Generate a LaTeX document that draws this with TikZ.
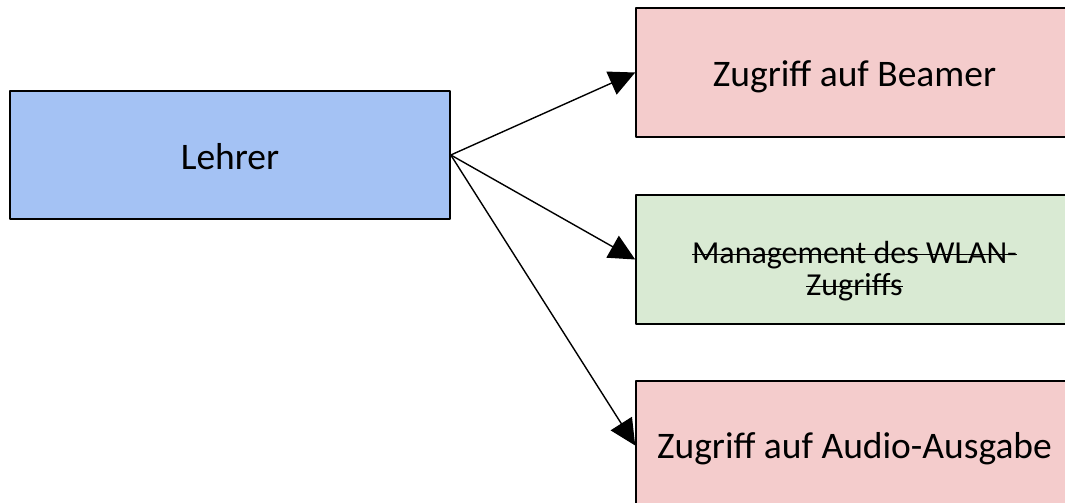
\documentclass[tikz,border=0pt]{standalone}
\usepackage{fontspec}
\setmainfont{Carlito}
\usetikzlibrary{arrows.meta}
\definecolor{lehrerblue}{HTML}{A4C2F4}
\definecolor{rosepink}{HTML}{F4CCCC}
\definecolor{palegreen}{HTML}{D9EAD3}
\newsavebox{\strikebox}
\newcommand{\struck}[1]{\sbox{\strikebox}{#1}%
  \rlap{\raisebox{0.27em}{\rule{\wd\strikebox}{1.4pt}}}\usebox{\strikebox}}
\newcommand{\lowered}[2]{\raisebox{-#1}[\height][\depth]{#2}}

\tikzset{
  rolebox/.style={draw=black, line width=1.6pt, minimum width=440pt, minimum height=128pt,
    inner sep=0pt, align=center, font=\fontsize{37.5}{44}\selectfont},
  taskbox/.style={rolebox, minimum width=437pt, minimum height=129pt},
  usecase/.style={line width=1.4pt, -{Triangle[length=26pt,width=25pt]}}
}

\begin{document}
\begin{tikzpicture}[line cap=round,line join=round,x=1pt,y=1pt]
\useasboundingbox (0,0) rectangle (1065,-503);
% Akteur
\node[rolebox, fill=lehrerblue] (lehrer) at (230,-155) {\lowered{2pt}{Lehrer}};
% Rechte
\node[taskbox, fill=rosepink] (beamer) at (854.5,-72.5) {\lowered{4pt}{Zugriff auf Beamer}};
\node[taskbox, fill=palegreen, font=\fontsize{32}{32}\selectfont] (wlan) at (854.5,-259.5)
  {\lowered{12pt}{\struck{Management des WLAN-}}\\\lowered{12pt}{\struck{Zugriffs}}};
\node[taskbox, fill=rosepink] (audio) at (854.5,-445.5) {\lowered{3pt}{Zugriff auf Audio-Ausgabe}};
\draw[usecase] (lehrer.east) -- (beamer.west);
\draw[usecase] (lehrer.east) -- (wlan.west);
\draw[usecase] (lehrer.east) -- (audio.west);
\end{tikzpicture}
\end{document}
